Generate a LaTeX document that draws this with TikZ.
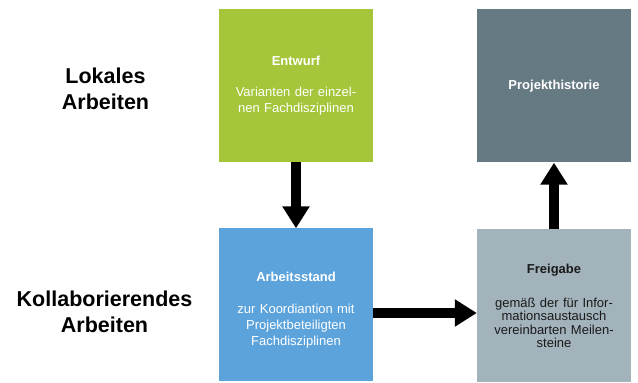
\documentclass[tikz,border=0pt]{standalone}
\usepackage{fontspec}
\setmainfont{Liberation Sans}
\usetikzlibrary{arrows.meta}
\definecolor{entgreen}{HTML}{A5C63B}
\definecolor{arbblue}{HTML}{5CA3DC}
\definecolor{freigrey}{HTML}{A3B3BC}
\definecolor{histgrey}{HTML}{667A84}
\definecolor{freitext}{HTML}{1A1A1A}
\tikzset{
  box/.style={minimum width=154pt,minimum height=153pt,inner sep=0pt,text width=150pt,align=center,
    font=\fontsize{13}{15.5}\selectfont,text=white},
  lane/.style={align=center,font=\fontsize{21.5}{26}\selectfont\bfseries},
  fat/.style={line width=10pt,-{Triangle[width=26pt,length=22pt]}}
}
\begin{document}
\begin{tikzpicture}[x=1pt,y=1pt]
  \useasboundingbox (0,0) rectangle (638,383);
          \node [lane] (lok) at (105.5,294) {Lokales\\Arbeiten};
          \node [lane] (kol) at (104.5,71) {Kollaborierendes\\Arbeiten};
          \node [box,fill=entgreen] (ent) at (296,297.5) {\textbf{Entwurf}\\[16pt]Varianten der einzel-\\nen Fachdisziplinen};
          \node [box,fill=arbblue,font=\fontsize{13}{16}\selectfont] (arb) at (296,78) {\rule{0pt}{19.5pt}\textbf{Arbeitsstand}\\[15.5pt]zur Koordiantion mit\\Projektbeteiligten\\Fachdisziplinen};
          \node [box,fill=freigrey,text=freitext,font=\fontsize{13}{13.5}\selectfont] (frei) at (554,77) {\textbf{Freigabe}\\[20pt]gemäß der für Infor-\\mationsaustausch\\vereinbarten Meilen-\\steine};
          \node [box,fill=histgrey] (hist) at (554,297) {\textbf{Projekthistorie}};
            \draw [fat] (ent) -- (arb);
            \draw [fat] ([yshift=-8pt]arb.east) -- ([yshift=-7pt]frei.west);
            \draw [fat] (frei) -- (hist);
\end{tikzpicture}
\end{document}
